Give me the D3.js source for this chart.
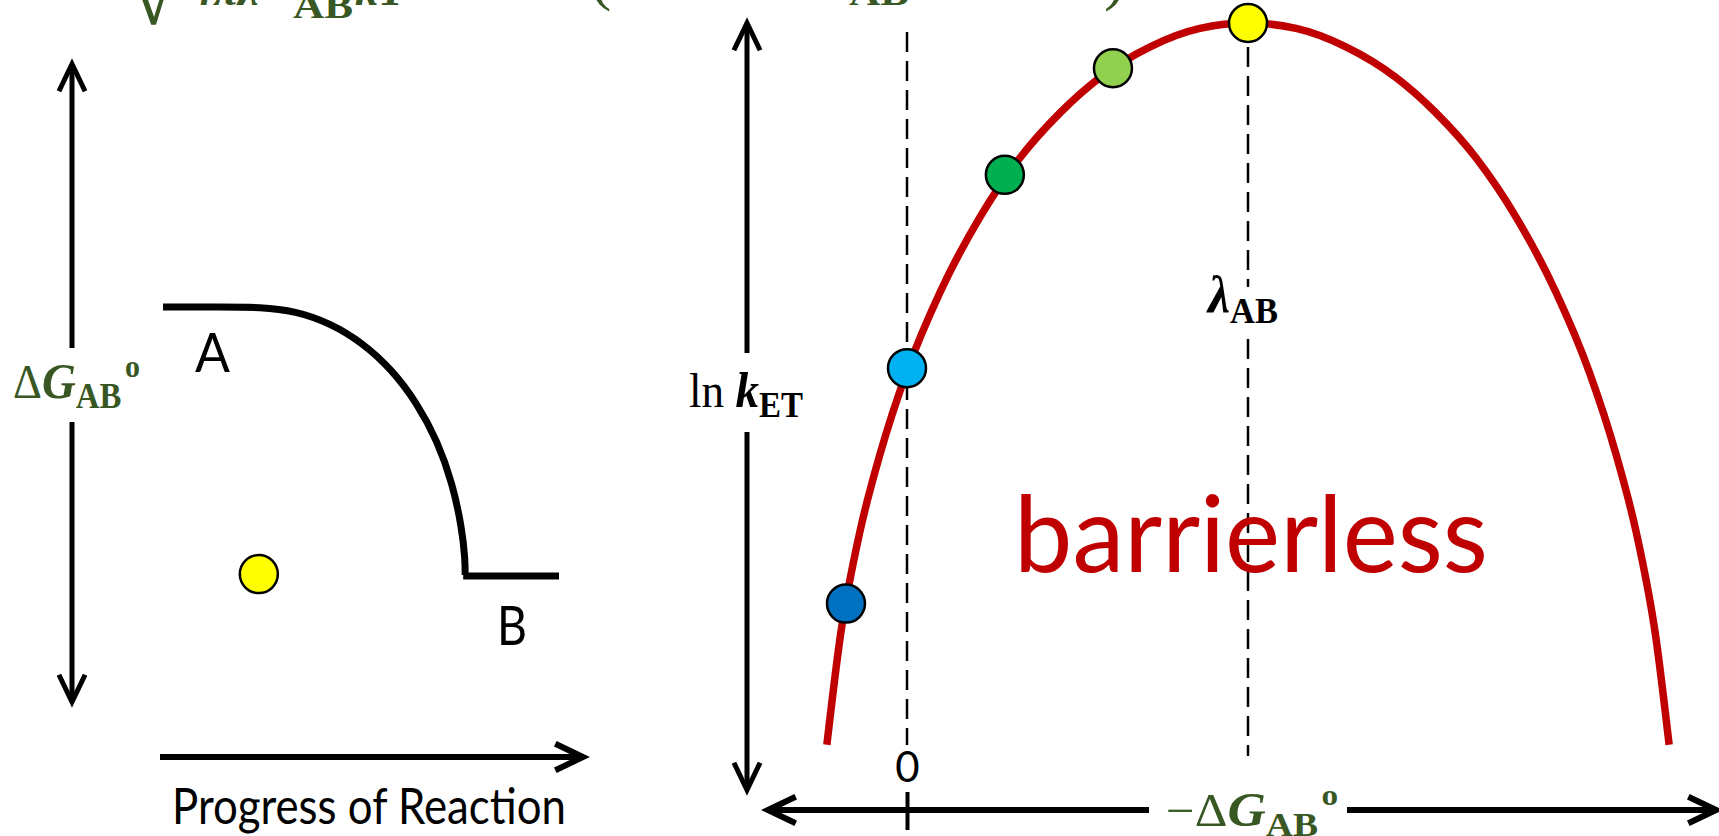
<!DOCTYPE html>
<html>
<head>
<meta charset="utf-8">
<script src="https://cdn.jsdelivr.net/npm/d3@7"></script>
<style>
  body { margin: 0; background: #fff; }
</style>
</head>
<body>
<div id="chart"></div>
<script>
// left panel: reaction profile, progress 0..1, energy 0 (B) .. 1 (A)
var profileX = [0, 0.15, 0.245, 0.335, 0.422, 0.504, 0.578, 0.641, 0.693, 0.731, 0.755, 0.763, 0.763];
var profileY = [1, 1, 1, 0.985, 0.940, 0.867, 0.767, 0.644, 0.502, 0.345, 0.177, 0.06, 0.004];
var levelBX = [0.758, 1.0];
var levelBY = [0, 0];
var ballX = [0.242];
var ballY = [0.007];

// right panel: ln kET against -dG (units of lambda)
var curveX = [-0.235, -0.196, -0.138, -0.079, 0, 0.097, 0.214, 0.331, 0.449, 0.566, 0.713, 0.859, 1.0,
              1.141, 1.287, 1.434, 1.551, 1.669, 1.786, 1.903, 2.0, 2.079, 2.138, 2.196, 2.235];
var curveY = [0.59, 1.99, 3.37, 4.38, 5.46, 6.49, 7.47, 8.24, 8.83, 9.29, 9.69, 9.93, 10,
              9.93, 9.69, 9.29, 8.83, 8.24, 7.47, 6.49, 5.46, 4.38, 3.37, 1.99, 0.59];
var pointX = [-0.179, 0, 0.287, 0.604, 1.0];
var pointY = [2.43, 5.5, 8.02, 9.41, 10];
var pointColors = ["#0070c0", "#00b0f0", "#00b050", "#92d050", "#ffff00"];
var tickValues = [0];
var tickLabels = ["0"];
var lambdaValue = 1;

var width = 1719, height = 836;
var green = "#385723", red = "#c00000";
var serif = "'Liberation Serif', serif";
var sans = "Lato, 'Open Sans', sans-serif";

var svg = d3.select("#chart").append("svg")
    .attr("width", width)
    .attr("height", height)
    .style("display", "block");

svg.append("rect").attr("width", width).attr("height", height).attr("fill", "#fff");

function arrowHead(g, x, y, angle, sw) {
    // open chevron, tip at (x,y), angle of the shaft direction
    var back = 25, side = 12;
    var ca = Math.cos(angle), sa = Math.sin(angle);
    var p1 = [x - back * ca - side * sa, y - back * sa + side * ca];
    var p2 = [x - back * ca + side * sa, y - back * sa - side * ca];
    g.append("path")
        .attr("d", "M" + p1 + "L" + x + "," + y + "L" + p2)
        .attr("fill", "none")
        .attr("stroke", "#000")
        .attr("stroke-width", sw)
        .attr("stroke-linejoin", "miter")
        .attr("stroke-linecap", "square");
}

function seg(g, x1, y1, x2, y2, sw) {
    g.append("line")
        .attr("x1", x1).attr("y1", y1).attr("x2", x2).attr("y2", y2)
        .attr("stroke", "#000").attr("stroke-width", sw);
}

function label(g, x, y, parts, opts) {
    var t = g.append("text").attr("x", x).attr("y", y)
        .attr("font-family", opts.family)
        .attr("fill", opts.fill || "#000");
    if (opts.length) t.attr("textLength", opts.length).attr("lengthAdjust", "spacingAndGlyphs");
    parts.forEach(function (p) {
        var s = t.append("tspan").text(p.t).attr("font-size", p.size);
        if (p.bold) s.attr("font-weight", "bold");
        if (p.italic) s.attr("font-style", "italic");
        if (p.dy) s.attr("dy", p.dy);
        if (p.dx) s.attr("dx", p.dx);
    });
    return t;
}

// ---- formula at the very top (cut by the frame, as in the slide) ----
var formulaG = svg.append("g");
label(formulaG, 128, 24, [{t: "\u221A", size: 92}], {family: serif, fill: green});
label(formulaG, 190, 5, [{t: "4\u03C0\u03BB", size: 46, bold: true, italic: true}], {family: serif, fill: green});
label(formulaG, 293, 18, [{t: "AB", size: 36, bold: true}], {family: serif, fill: green, length: 60});
label(formulaG, 355, 5, [{t: "kT", size: 46, bold: true, italic: true}], {family: serif, fill: green});
label(formulaG, 590, -2, [{t: "(", size: 64}], {family: serif, fill: green});
label(formulaG, 849, 5, [{t: "AB", size: 36, bold: true}], {family: serif, fill: green, length: 60});
label(formulaG, 1104, -2, [{t: ")", size: 64}], {family: serif, fill: green});

// ---- left panel ----
var lx = d3.scaleLinear().domain([0, 1]).range([163, 559]);
var ly = d3.scaleLinear().domain([0, 1]).range([576, 307]);
var leftG = svg.append("g");

// energy axis with gap for label
seg(leftG, 72, 66, 72, 348, 5);
seg(leftG, 72, 422, 72, 700, 5);
arrowHead(leftG, 72, 64, -Math.PI / 2, 5);
arrowHead(leftG, 72, 702, Math.PI / 2, 5);

label(leftG, 13, 398, [
    {t: "\u0394", size: 48},
    {t: "G", size: 50, bold: true, italic: true},
    {t: "AB", size: 35, bold: true, dy: 10},
    {t: "o", size: 32, bold: true, dy: -31, dx: 4}
], {family: serif, fill: green, length: 127});

var profile = d3.line()
    .x(function (d) { return lx(d[0]); })
    .y(function (d) { return ly(d[1]); })
    .curve(d3.curveBasis);

leftG.append("path")
    .datum(d3.zip(profileX, profileY))
    .attr("d", profile)
    .attr("fill", "none")
    .attr("stroke", "#000")
    .attr("stroke-width", 7);

leftG.append("path")
    .datum(d3.zip(levelBX, levelBY))
    .attr("d", d3.line().x(function (d) { return lx(d[0]); }).y(function (d) { return ly(d[1]); }))
    .attr("fill", "none")
    .attr("stroke", "#000")
    .attr("stroke-width", 7);

leftG.selectAll("circle.ball")
    .data(d3.zip(ballX, ballY))
    .enter().append("circle")
    .attr("class", "ball")
    .attr("cx", function (d) { return lx(d[0]); })
    .attr("cy", function (d) { return ly(d[1]); })
    .attr("r", 19)
    .attr("fill", "#ffff00")
    .attr("stroke", "#000")
    .attr("stroke-width", 2.5);

label(leftG, 195, 372, [{t: "A", size: 55}], {family: sans, length: 35});
label(leftG, 497, 645, [{t: "B", size: 55}], {family: sans, length: 30});

seg(leftG, 160, 757, 581, 757, 6);
arrowHead(leftG, 583, 757, 0, 6);
label(leftG, 172, 824, [{t: "Progress of Reaction", size: 50}], {family: sans, length: 394});

// ---- right panel ----
var x = d3.scaleLinear().domain([0, 1]).range([907, 1248]);
var y = d3.scaleLinear().domain([0, 10]).range([790, 23]);
var rightG = svg.append("g");

// ln k axis
seg(rightG, 747, 25, 747, 353, 5);
seg(rightG, 747, 432, 747, 788, 5);
arrowHead(rightG, 747, 23, -Math.PI / 2, 5);
arrowHead(rightG, 747, 790, Math.PI / 2, 5);

label(rightG, 689, 407, [
    {t: "ln ", size: 48},
    {t: "k", size: 50, bold: true, italic: true},
    {t: "ET", size: 35, bold: true, dy: 10}
], {family: serif, length: 114});

// dashed guides at 0 and lambda
rightG.append("line")
    .attr("x1", x(0)).attr("x2", x(0))
    .attr("y1", 32).attr("y2", 745)
    .attr("stroke", "#000").attr("stroke-width", 2.5)
    .attr("stroke-dasharray", "20,9");
rightG.append("line")
    .attr("x1", x(lambdaValue)).attr("x2", x(lambdaValue))
    .attr("y1", 47).attr("y2", 287)
    .attr("stroke", "#000").attr("stroke-width", 2.5)
    .attr("stroke-dasharray", "20,9");
rightG.append("line")
    .attr("x1", x(lambdaValue)).attr("x2", x(lambdaValue))
    .attr("y1", 339).attr("y2", 756)
    .attr("stroke", "#000").attr("stroke-width", 2.5)
    .attr("stroke-dasharray", "20,9");

label(rightG, 1208, 312, [
    {t: "\u03BB", size: 52, bold: true, italic: true},
    {t: "AB", size: 36, bold: true, dy: 11}
], {family: serif, length: 70});

// Marcus curve
var marcus = d3.line()
    .x(function (d) { return x(d[0]); })
    .y(function (d) { return y(d[1]); })
    .curve(d3.curveMonotoneX);

rightG.append("path")
    .datum(d3.zip(curveX, curveY))
    .attr("d", marcus)
    .attr("fill", "none")
    .attr("stroke", red)
    .attr("stroke-width", 7.5);

rightG.selectAll("circle.et")
    .data(d3.zip(pointX, pointY, pointColors))
    .enter().append("circle")
    .attr("class", "et")
    .attr("cx", function (d) { return x(d[0]); })
    .attr("cy", function (d) { return y(d[1]); })
    .attr("r", 19)
    .attr("fill", function (d) { return d[2]; })
    .attr("stroke", "#000")
    .attr("stroke-width", 2.5);

label(rightG, 1014, 572, [{t: "barrierless", size: 106}], {family: sans, fill: red, length: 474});

// energy axis at the bottom
seg(rightG, 770, 810, 1149, 810, 6);
seg(rightG, 1347, 810, 1714, 810, 6);
arrowHead(rightG, 768, 810, Math.PI, 6);
arrowHead(rightG, 1716, 810, 0, 6);

var xAxis = d3.axisTop(x)
    .tickValues(tickValues)
    .tickFormat(function (d, i) { return tickLabels[i]; })
    .tickSizeInner(38)
    .tickSizeOuter(0)
    .tickPadding(10);

var axisG = rightG.append("g")
    .attr("transform", "translate(0,830)")
    .call(xAxis);
axisG.select(".domain").remove();
axisG.selectAll(".tick line").attr("stroke", "#000").attr("stroke-width", 4);
axisG.selectAll(".tick text")
    .attr("fill", "#000")
    .attr("font-family", sans)
    .attr("font-size", 42);

label(rightG, 1166, 826, [
    {t: "\u2212\u0394", size: 46},
    {t: "G", size: 48, bold: true, italic: true},
    {t: "AB", size: 34, bold: true, dy: 10},
    {t: "o", size: 30, bold: true, dy: -31, dx: 3}
], {family: serif, fill: green, length: 172});
</script>
</body>
</html>
